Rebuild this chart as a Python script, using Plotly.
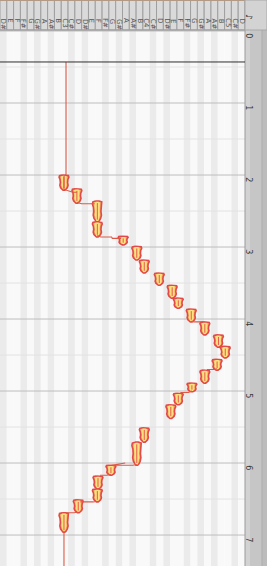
import plotly.graph_objects as go

# ---------------- data ----------------
BASE_MIDI = 39          # lowest key column (D#2)
N_KEYS = 36
NOTE_NAMES = ["C", "C#", "D", "D#", "E", "F", "F#", "G", "G#", "A", "A#", "B"]

time_ticks = [0, 1, 2, 3, 4, 5, 6, 7]
half_ticks = [0.5, 1.5, 2.5, 3.5, 4.5, 5.5, 6.5]
playhead_t = 0.43

note_start = [2.00, 2.19, 2.36, 2.65, 2.85, 2.99, 3.18, 3.36, 3.53, 3.71, 3.86, 4.04, 4.22,
              4.38, 4.56, 4.71, 4.89, 5.03, 5.19, 5.51, 5.71, 6.03, 6.18, 6.36, 6.51, 6.69]
note_end = [2.21, 2.39, 2.65, 2.86, 2.97, 3.18, 3.36, 3.53, 3.71, 3.85, 4.04, 4.22, 4.39,
            4.54, 4.71, 4.89, 5.01, 5.19, 5.38, 5.71, 6.03, 6.17, 6.36, 6.54, 6.69, 6.96]
note_pitch = [47.9, 49.8, 52.8, 52.8, 56.6, 58.6, 59.7, 61.9, 63.8, 64.7, 66.6, 68.6, 70.6,
              71.6, 70.4, 68.6, 66.7, 64.7, 63.6, 59.7, 58.6, 54.8, 52.9, 52.8, 50.0, 47.9]

# pitch curve segments (time, pitch); None = break
curve_t = [0.43, 1.99, 2.02, 2.20, 2.24, 2.24, None,
           2.38, 2.40, 2.40, None,
           2.84, 2.86, 2.86, 2.88, 2.88, None,
           4.03, 4.04, 4.04, None,
           4.69, 4.70, 4.70, None,
           5.00, 5.02, 5.02, None,
           6.02, 6.03, 6.03, 6.00, None,
           6.16, 6.17, 6.17, None,
           6.53, 6.54, 6.54, None,
           6.68, 6.69, 6.69, None,
           6.94, 7.45]
curve_p = [48.2, 48.2, 47.9, 47.9, 49.2, 49.8, None,
           49.8, 50.5, 52.4, None,
           52.8, 53.3, 54.9, 55.0, 56.3, None,
           66.6, 67.0, 68.3, None,
           70.4, 70.0, 68.9, None,
           66.7, 66.2, 65.0, None,
           58.6, 58.0, 54.9, 56.9, None,
           54.8, 54.2, 53.2, None,
           52.8, 52.2, 50.3, None,
           50.0, 49.4, 48.2, None,
           47.9, 47.9]

# ---------------- style ----------------
PROFILE_F = [0.0, 0.04, 0.14, 0.30, 0.50, 0.68, 0.84, 0.95, 1.0]
PROFILE_W = [0.35, 0.9, 1.00, 0.80, 0.74, 0.84, 0.68, 0.42, 0.18]
HALF_W = 0.72
C_OUT_LINE = "#e2494a"
C_OUT_FILL = "#f2a65c"
C_IN_FILL = "#fbe27e"
C_CURVE = "#dc5a45"

H_PX = 566
W_PX = 267
TOP = 30
RIGHT = 22
plot_h = H_PX - TOP
plot_w = W_PX - RIGHT
hdr = TOP / plot_h
rs = RIGHT / plot_w

fig = go.Figure()


def blob(t0, t1, p, scale):
    ts, ps = [], []
    for f, w in zip(PROFILE_F, PROFILE_W):
        ts.append(t0 + f * (t1 - t0))
        ps.append(p - HALF_W * w * scale)
    for f, w in zip(reversed(PROFILE_F), reversed(PROFILE_W)):
        ts.append(t0 + f * (t1 - t0))
        ps.append(p + HALF_W * w * scale)
    ts.append(ts[0])
    ps.append(ps[0])
    return ts, ps


for t0, t1, p in zip(note_start, note_end, note_pitch):
    ts, ps = blob(t0, t1, p, 1.0)
    fig.add_trace(go.Scatter(x=ps, y=ts, mode="lines", fill="toself",
                             fillcolor=C_OUT_FILL,
                             line=dict(color=C_OUT_LINE, width=1.6),
                             hoverinfo="skip", showlegend=False))
    ts, ps = blob(t0 + 0.01, t1 - 0.01, p, 0.62)
    fig.add_trace(go.Scatter(x=ps, y=ts, mode="lines", fill="toself",
                             fillcolor=C_IN_FILL, line=dict(width=0),
                             hoverinfo="skip", showlegend=False))
    fig.add_trace(go.Scatter(x=[p, p], y=[t0 + 0.03, t1 - 0.03], mode="lines",
                             line=dict(color=C_OUT_LINE, width=0.9),
                             hoverinfo="skip", showlegend=False))

fig.add_trace(go.Scatter(x=curve_p, y=curve_t, mode="lines",
                         line=dict(color=C_CURVE, width=1.1),
                         connectgaps=False, hoverinfo="skip", showlegend=False))

shapes = []
annotations = []

# key stripes in body + header cells
for i in range(N_KEYS):
    midi = BASE_MIDI + i
    black = (midi % 12) in (1, 3, 6, 8, 10)
    shapes.append(dict(type="rect", xref="x", yref="paper", x0=midi - 0.5, x1=midi + 0.5,
                       y0=0, y1=1, fillcolor="#ebebeb" if black else "#f9f9f9",
                       line=dict(width=0), layer="below"))
    shapes.append(dict(type="rect", xref="x", yref="paper", x0=midi - 0.5, x1=midi + 0.5,
                       y0=1, y1=1 + hdr, fillcolor="#dadada",
                       line=dict(color="#9f9f9f", width=1), layer="above"))
    nm = NOTE_NAMES[midi % 12]
    name = nm + str(midi // 12 - 1) if nm == "C" else nm
    annotations.append(dict(x=midi, y=1 + hdr * 0.45, xref="x", yref="paper",
                            text=name, textangle=90, showarrow=False,
                            font=dict(family="DejaVu Sans", size=7, color="#555555")))

# header border lines
shapes.append(dict(type="line", xref="paper", yref="paper", x0=0, x1=1 + rs,
                   y0=1 + hdr, y1=1 + hdr, line=dict(color="#b49a84", width=2)))
shapes.append(dict(type="line", xref="paper", yref="paper", x0=0, x1=1,
                   y0=1, y1=1, line=dict(color="#9c9c9c", width=1)))

# right ruler strip
shapes.append(dict(type="rect", xref="paper", yref="paper", x0=1, x1=1 + rs,
                   y0=0, y1=1 + hdr, fillcolor="#c6c6c6", line=dict(width=0)))
shapes.append(dict(type="rect", xref="paper", yref="paper", x0=1, x1=1 + 5 / plot_w,
                   y0=0, y1=1, fillcolor="#d2d2d2", line=dict(width=0)))
shapes.append(dict(type="rect", xref="paper", yref="paper", x0=1 + 17 / plot_w, x1=1 + rs,
                   y0=0, y1=1 + hdr, fillcolor="#bcbcbc", line=dict(width=0)))
shapes.append(dict(type="line", xref="paper", yref="paper", x0=1, x1=1,
                   y0=0, y1=1 + hdr, line=dict(color="#9a9a9a", width=1)))
shapes.append(dict(type="line", xref="paper", yref="paper", x0=1 + 17 / plot_w, x1=1 + 17 / plot_w,
                   y0=0, y1=1 + hdr, line=dict(color="#adadad", width=1)))
shapes.append(dict(type="rect", xref="paper", yref="paper", x0=1, x1=1 + rs,
                   y0=1, y1=1 + hdr, fillcolor="#d3d3d3", line=dict(color="#a8a8a8", width=1)))

# grid lines
for t in half_ticks:
    shapes.append(dict(type="line", xref="paper", yref="y", x0=0, x1=1 + 2 / plot_w,
                       y0=t, y1=t, line=dict(color="#e3e3e3", width=1), layer="below"))
for t in time_ticks:
    shapes.append(dict(type="line", xref="paper", yref="y", x0=0, x1=1 + 12 / plot_w,
                       y0=t, y1=t, line=dict(color="#bdbdbd", width=1), layer="below"))
    annotations.append(dict(x=1 + 10 / plot_w, y=t + 0.065, xref="paper", yref="y",
                            text=str(t), textangle=90, showarrow=False,
                            font=dict(family="DejaVu Sans", size=8, color="#3a3a3a")))

# playhead
shapes.append(dict(type="line", xref="paper", yref="y", x0=0, x1=1,
                   y0=playhead_t, y1=playhead_t, line=dict(color="#2f2f2f", width=1)))

annotations.append(dict(x=1 + 11 / plot_w, y=1 + hdr * 0.6, xref="paper", yref="paper",
                        text="♪", textangle=90, showarrow=False,
                        font=dict(family="DejaVu Sans", size=9, color="#444")))

fig.update_layout(
    width=W_PX, height=H_PX,
    margin=dict(l=0, r=RIGHT, t=TOP, b=0, pad=0),
    paper_bgcolor="#d6d6d6", plot_bgcolor="#ffffff",
    xaxis=dict(range=[BASE_MIDI - 0.5, BASE_MIDI + N_KEYS - 0.5], visible=False, fixedrange=True),
    yaxis=dict(range=[7.43, -0.014], visible=False, fixedrange=True),
    shapes=shapes, annotations=annotations, showlegend=False,
)

fig.write_html("out.html", config={"displayModeBar": False},
               post_script="document.body.style.margin='0';document.body.style.overflow='hidden';")
